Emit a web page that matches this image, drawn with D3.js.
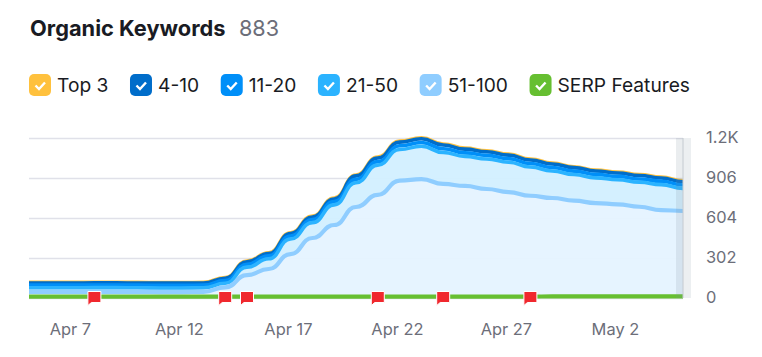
<!DOCTYPE html>
<html>
<head>
<meta charset="utf-8">
<script src="https://cdn.jsdelivr.net/npm/d3@7"></script>
<style>
  body { margin: 0; background: #fff; }
  svg { display: block; font-family: Inter, sans-serif; }
</style>
</head>
<body>
<div id="chart"></div>
<script>
const days = ["2024-04-05","2024-04-06","2024-04-07","2024-04-08","2024-04-09","2024-04-10","2024-04-11","2024-04-12","2024-04-13","2024-04-14","2024-04-15","2024-04-16","2024-04-17","2024-04-18","2024-04-19","2024-04-20","2024-04-21","2024-04-22","2024-04-23","2024-04-24","2024-04-25","2024-04-26","2024-04-27","2024-04-28","2024-04-29","2024-04-30","2024-05-01","2024-05-02","2024-05-03","2024-05-04","2024-05-05"];
const top3 = [5,5,5,5,5,5,5,5,5,5,6,6,6,7,7,7,8,8,8,8,8,8,8,7,7,7,7,7,7,7,7];
const pos4to10 = [16,16,16,16,16,16,16,16,16,17,18,18,19,19,20,26,27,28,28,28,28,27,27,27,27,26,26,26,26,25,25];
const pos11to20 = [20,20,20,20,20,20,20,20,20,21,22,22,23,24,25,26,27,28,28,28,27,27,27,26,26,26,26,25,25,25,25];
const pos21to50 = [31,31,31,32,32,31,31,31,31,31,60,77,113,116,152,183,225,235,248,238,223,227,225,217,204,197,190,186,185,192,171];
const pos51to100 = [46,46,46,46,46,46,45,45,46,80,173,219,332,453,551,687,778,886,898,861,846,823,800,772,755,735,717,707,689,664,657];
const serp = [10,10,10,10,10,10,10,10,10,10,10,10,10,10,10,11,11,11,11,11,11,11,11,11,12,12,12,12,12,12,12];

const legendNames = ["Top 3","4-10","11-20","21-50","51-100","SERP Features"];
const legendColors = ["#ffc13d","#006dca","#008ff8","#2bb3ff","#8fcdff","#66bf31"];
const yTicks = [0,302,604,906,1208];
const yTickLabels = ["0","302","604","906","1.2K"];
const xTickDays = ["2024-04-07","2024-04-12","2024-04-17","2024-04-22","2024-04-27","2024-05-02"];
const flagDays = ["2024-04-08","2024-04-14","2024-04-15","2024-04-21","2024-04-24","2024-04-28"];

const width = 762, height = 357;
const margin = { top: 138, right: 79, bottom: 59, left: 29 };
const parse = d3.utcParse("%Y-%m-%d");
const dates = days.map(parse);

const svg = d3.select("#chart").append("svg")
    .attr("width", width)
    .attr("height", height);

// title
svg.append("text").attr("x", 30).attr("y", 36)
    .attr("font-size", 21.8).attr("font-weight", 700).attr("fill", "#191b23")
    .text("Organic Keywords");
svg.append("text").attr("x", 239).attr("y", 36)
    .attr("font-size", 21.6).attr("fill", "#6c6e79")
    .text("883");

// legend, laid out left to right
let legendX = 29;
legendNames.forEach((name, i) => {
    const g = svg.append("g").attr("transform", `translate(${legendX},74)`);
    g.append("rect").attr("width", 22).attr("height", 22).attr("rx", 5).attr("fill", legendColors[i]);
    g.append("path").attr("d", "M6.5 11.5 L10 15 L16 8.5")
        .attr("fill", "none").attr("stroke", "#fff").attr("stroke-width", 2.4);
    const label = g.append("text").attr("x", 28).attr("y", 18)
        .attr("font-size", 19.2).attr("fill", "#191b23").text(name);
    legendX += 28 + label.node().getComputedTextLength() + 21.6;
});

const x = d3.scaleUtc()
    .domain([dates[0], dates[dates.length - 1]])
    .range([margin.left, width - margin.right]);
const y = d3.scaleLinear()
    .domain([0, 1208])
    .range([height - margin.bottom, margin.top]);

// grid + y labels
const yAxis = svg.append("g")
    .attr("transform", `translate(${width - margin.right},0)`)
    .call(d3.axisRight(y)
        .tickValues(yTicks)
        .tickSize(-(width - margin.left - margin.right))
        .tickPadding(23)
        .tickFormat((d, i) => yTickLabels[i]));
yAxis.select(".domain").remove();
yAxis.selectAll("line").attr("stroke", "#e0e1e9").attr("stroke-width", 1.5);
yAxis.selectAll("text").attr("y", -0.6).attr("font-size", 16.4).attr("fill", "#6c6e79").attr("font-family", "Inter, sans-serif");

// x labels
const xAxis = svg.append("g")
    .attr("transform", `translate(0,${height - margin.bottom})`)
    .call(d3.axisBottom(x)
        .tickValues(xTickDays.map(parse))
        .tickSize(0)
        .tickPadding(25)
        .tickFormat(d3.utcFormat("%b %-d")));
xAxis.select(".domain").remove();
xAxis.selectAll("text").attr("dx", -2.7).attr("font-size", 16.4).attr("fill", "#6c6e79").attr("font-family", "Inter, sans-serif");

// stacked series, bottom one first
const rows = days.map((d, i) => ({
    i,
    "51-100": pos51to100[i],
    "21-50": pos21to50[i],
    "11-20": pos11to20[i],
    "4-10": pos4to10[i],
    "Top 3": top3[i]
}));
const stacked = d3.stack().keys(["51-100","21-50","11-20","4-10","Top 3"])(rows);
const colorOf = name => legendColors[legendNames.indexOf(name)];
const fills = { "51-100": "#e5f3ff", "21-50": "#d2efff", "11-20": "#d2efff", "4-10": "#d2efff", "Top 3": "#d2efff" };

const area = d3.area()
    .x(d => x(dates[d.data.i]))
    .y0(d => y(d[0]))
    .y1(d => y(d[1]))
    .curve(d3.curveBumpX);
const line = d3.line()
    .x(d => x(dates[d.data.i]))
    .y(d => y(d[1]))
    .curve(d3.curveBumpX);

svg.append("g").selectAll("path").data(stacked).join("path")
    .attr("fill", d => fills[d.key])
    .attr("fill-opacity", 0.95)
    .attr("d", area);

svg.append("g").selectAll("path").data(stacked.slice().reverse()).join("path")
    .attr("fill", "none")
    .attr("stroke", d => colorOf(d.key))
    .attr("stroke-width", d => d.key === "51-100" ? 4.2 : 3.6)
    .attr("d", line);

// SERP features is not part of the stack
svg.append("path")
    .datum(serp)
    .attr("fill", "none")
    .attr("stroke", colorOf("SERP Features"))
    .attr("stroke-width", 4.2)
    .attr("d", d3.line().x((d, i) => x(dates[i])).y(d => y(d)).curve(d3.curveBumpX));

// grey strip at the right end of the plot
const plotRight = width - margin.right;
svg.append("rect").attr("x", plotRight - 7).attr("y", margin.top)
    .attr("width", 7).attr("height", height - margin.top - margin.bottom)
    .attr("fill", "#7f8c99").attr("fill-opacity", 0.16);
svg.append("rect").attr("x", plotRight).attr("y", margin.top)
    .attr("width", 8).attr("height", height - margin.top - margin.bottom)
    .attr("fill", "#eceff1");
svg.append("line").attr("x1", plotRight).attr("x2", plotRight)
    .attr("y1", margin.top).attr("y2", height - margin.bottom)
    .attr("stroke", "#c4cad0").attr("stroke-width", 1);

// flags
svg.append("g").selectAll("path").data(flagDays.map(parse)).join("path")
    .attr("transform", d => `translate(${x(d)},${y(0)})`)
    .attr("d", "M-6.5 -6.5 H6.5 V4.5 H-3 L-6.5 7.5 Z")
    .attr("fill", "#f0282e")
    .attr("stroke", "#fff")
    .attr("stroke-width", 1);
</script>
</body>
</html>
